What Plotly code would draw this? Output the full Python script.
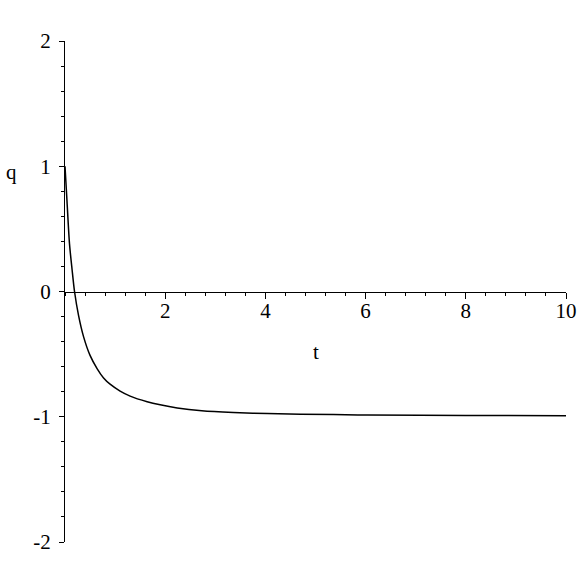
import plotly.graph_objects as go

# values
t_vals = [0, 0.04, 0.09, 0.14, 0.19, 0.27, 0.37, 0.5, 0.64, 0.77, 0.9, 1.1, 1.3,
          1.64, 1.9, 2.24, 2.73, 3.36, 4.04, 5.36, 6.03, 8.0, 10.0]
q_vals = [1.0, 0.72, 0.38, 0.18, 0.0, -0.19, -0.36, -0.51, -0.615, -0.69, -0.74,
          -0.795, -0.835, -0.88, -0.905, -0.93, -0.952, -0.966, -0.975, -0.983,
          -0.986, -0.99, -0.992]

x_tickvals = [2, 4, 6, 8, 10]
x_ticktext = ["2", "4", "6", "8", "10"]
y_tickvals = [-2, -1, 0, 1, 2]
y_ticktext = ["-2", "-1", "0", "1", "2"]

font_family = "Liberation Serif, Times New Roman, serif"
fs = 21

fig = go.Figure()
fig.add_trace(go.Scatter(x=t_vals, y=q_vals, mode="lines",
                         line=dict(color="black", width=1.5, shape="spline", smoothing=0.8),
                         showlegend=False, hoverinfo="skip"))

fig.update_layout(
    width=583, height=583,
    margin=dict(l=65, r=17, t=41, b=41, autoexpand=False),
    paper_bgcolor="white", plot_bgcolor="white",
    font=dict(family=font_family, size=fs, color="black"),
    xaxis=dict(range=[0, 10], anchor="free", position=0.5, automargin=False,
               showline=True, linecolor="black", linewidth=1,
               showgrid=False, zeroline=False,
               tickmode="array", tickvals=x_tickvals, ticktext=x_ticktext,
               ticks="outside", ticklen=6, tickcolor="black", tickwidth=1,
               ticklabelstandoff=-6,
               minor=dict(tick0=0, dtick=0.4, ticks="outside", ticklen=3,
                          tickcolor="black", showgrid=False),
               tickfont=dict(family=font_family, size=fs, color="black"),
               fixedrange=True),
    yaxis=dict(range=[-2, 2], automargin=False,
               showline=True, linecolor="black", linewidth=1,
               showgrid=False, zeroline=False,
               tickmode="array", tickvals=y_tickvals, ticktext=y_ticktext,
               ticks="outside", ticklen=5, tickcolor="black", tickwidth=1,
               ticklabelstandoff=4,
               minor=dict(tick0=0, dtick=0.2, ticks="outside", ticklen=3,
                          tickcolor="black", showgrid=False),
               tickfont=dict(family=font_family, size=fs, color="black"),
               fixedrange=True),
    annotations=[
        dict(text="t", x=0.5, y=0.379, xref="paper", yref="paper",
             showarrow=False, font=dict(family=font_family, size=fs, color="black")),
        dict(text="q", x=-0.121, y=0.766, xref="paper", yref="paper",
             showarrow=False, font=dict(family=font_family, size=fs, color="black")),
    ],
)

fig.write_html("out.html", config={"displayModeBar": False},
               post_script="document.body.style.margin='0';document.body.style.overflow='hidden';")
